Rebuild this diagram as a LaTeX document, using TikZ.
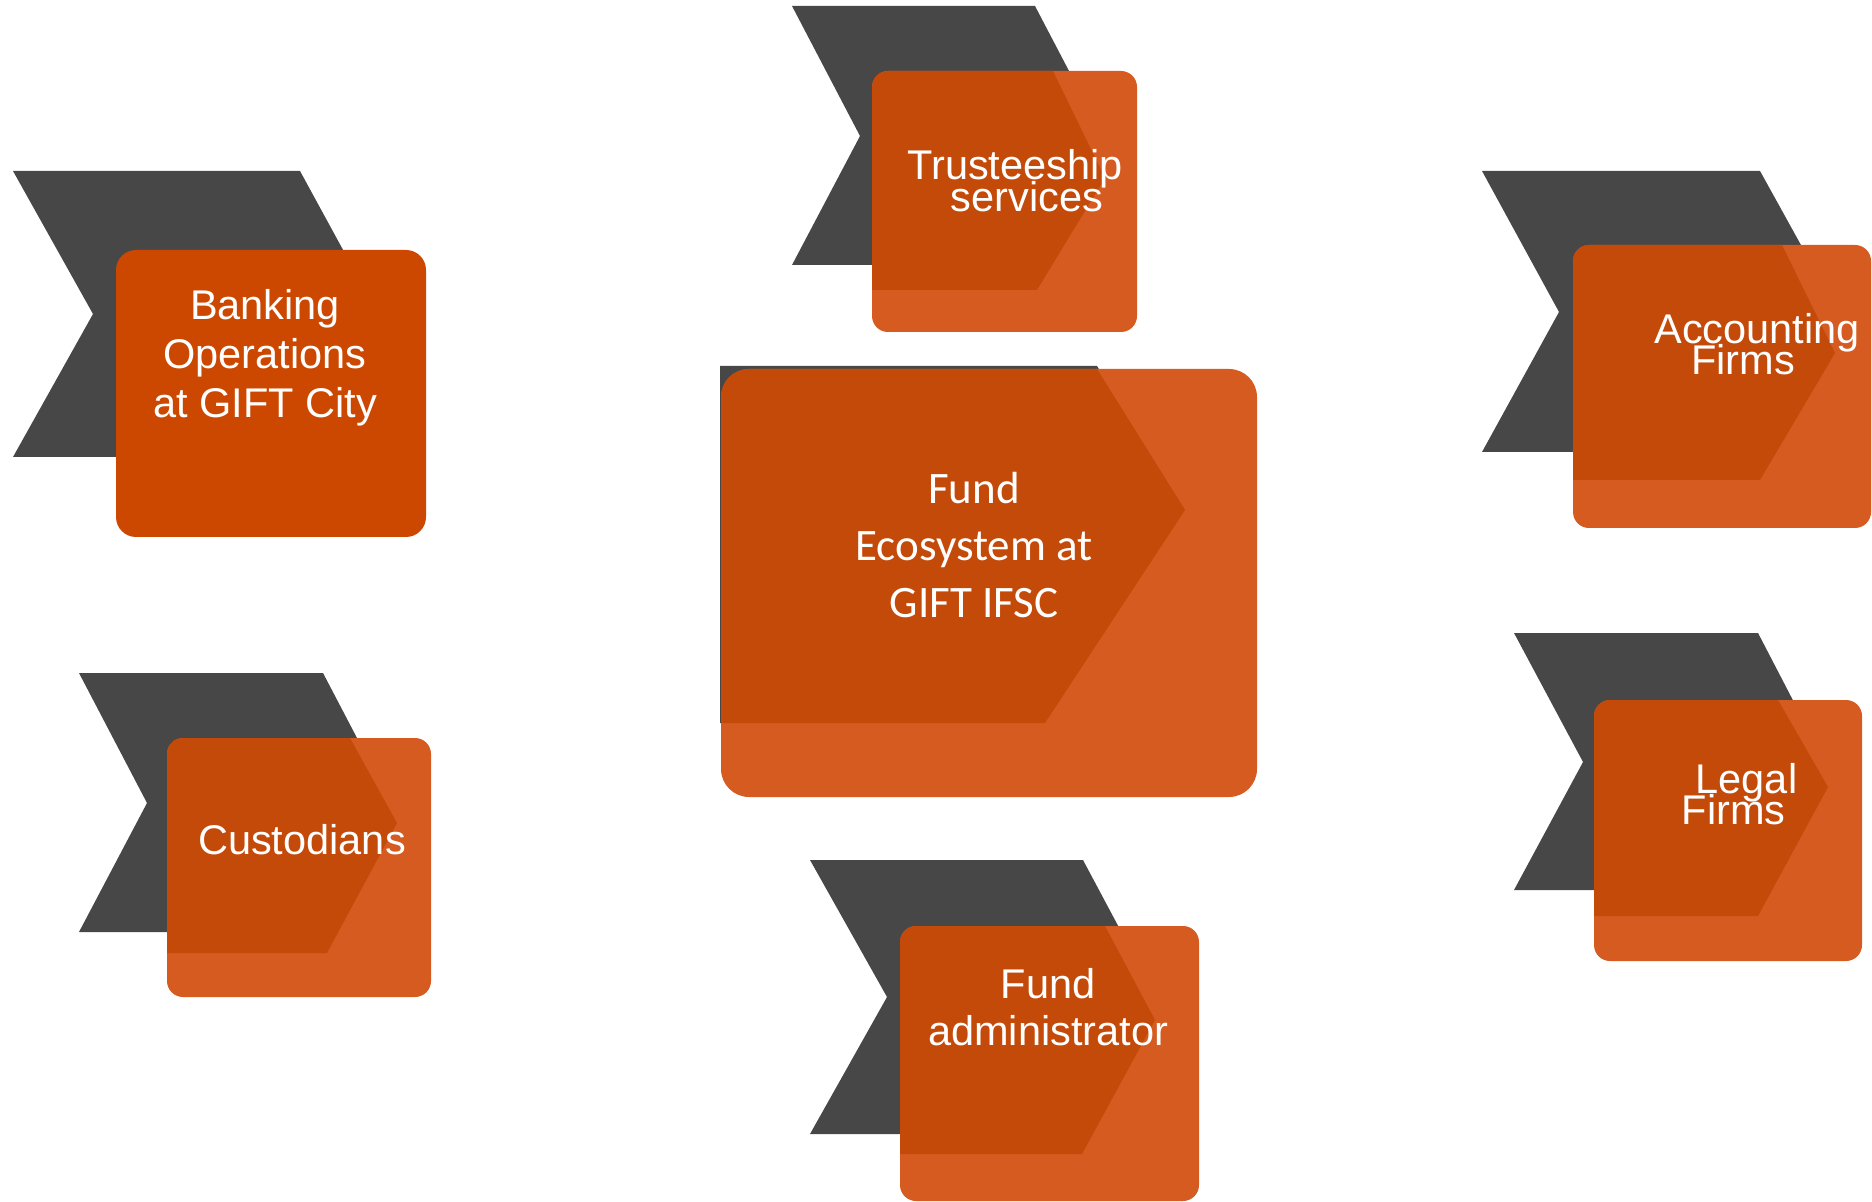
\documentclass[tikz,border=0pt]{standalone}
\usepackage{fontspec}
\newfontfamily\arialfont{Liberation Sans}
\newfontfamily\calfont{Carlito}
\usepackage{tikz}
\definecolor{chevgrey}{HTML}{474747}
\definecolor{tileorange}{HTML}{D55B20}
\definecolor{inlayorange}{HTML}{C44A0A}
\definecolor{bankorange}{HTML}{CC4800}
\lineskiplimit=-100pt
\tikzset{
  backchev/.style={fill=chevgrey},
  tile/.style={fill=tileorange,rounded corners=8pt},
  inlay/.style={fill=inlayorange,sharp corners},
  tiletext/.style={text=white,align=center,inner sep=0pt,
    font=\arialfont\fontsize{20.75}{#1}\selectfont},
  tiletext/.default=16
}

\begin{document}
\begin{tikzpicture}[x=0.5pt,y=0.5pt]
  \useasboundingbox (0,0) rectangle (1872,-1202);

  % banking
  \fill [backchev] (13,-171) -- (300,-171) -- (378,-314) -- (300,-457)
    -- (13,-457) -- (93,-314) -- cycle;
  \fill [fill=bankorange,rounded corners=10pt] (116,-250) rectangle (426,-537);
  \node [tiletext=24.5] (bank) at (265,-358)
    {Banking\\Operations\\at GIFT City};

  % trusteeship
  \fill [backchev] (792,-6) -- (1035,-6) -- (1103,-136) -- (1035,-265)
    -- (792,-265) -- (860,-136) -- cycle;
  \path [tile,path picture={\fill [inlay] (872,-71) -- (1053,-71) -- (1105,-178)
    -- (1037,-290) -- (872,-290) -- cycle;}] (872,-71) rectangle (1137,-332);
  \node [tiletext] (trust) at (1021,-181)
    {Trusteeship\hspace*{6pt}\\\hspace*{6pt}services};

  % accounting
  \fill [backchev] (1482,-171) -- (1760,-171) -- (1838,-312) -- (1760,-452)
    -- (1482,-452) -- (1559,-312) -- cycle;
  \path [tile,path picture={\fill [inlay] (1573,-245) -- (1782,-245) -- (1835,-353)
    -- (1760,-480) -- (1573,-480) -- cycle;}] (1573,-245) rectangle (1871,-528);
  \node [tiletext=15.5] (acct) at (1750,-344)
    {\hspace*{7pt}Accounting\\Firms\hspace*{7pt}};

  % legal
  \fill [backchev] (1514,-633) -- (1758,-633) -- (1825,-762) -- (1758,-890)
    -- (1514,-890) -- (1583,-762) -- cycle;
  \path [tile,path picture={\fill [inlay] (1594,-700) -- (1778,-700) -- (1828,-787)
    -- (1758,-916) -- (1594,-916) -- cycle;}] (1594,-700) rectangle (1862,-961);
  \node [tiletext=15.5] (legal) at (1740,-794)
    {\hspace*{6.5pt}Legal\\Firms\hspace*{6.5pt}};

  % custodians
  \fill [backchev] (79,-673) -- (323,-673) -- (391,-803) -- (323,-932)
    -- (79,-932) -- (147,-803) -- cycle;
  \path [tile,path picture={\fill [inlay] (167,-738) -- (350,-738) -- (397,-823)
    -- (327,-953) -- (167,-953) -- cycle;}] (167,-738) rectangle (431,-997);
  \node [tiletext] (cust) at (302,-840) {Custodians};

  % fund administrator
  \fill [backchev] (810,-860) -- (1083,-860) -- (1156,-997) -- (1083,-1134)
    -- (810,-1134) -- (887,-997) -- cycle;
  \path [tile,path picture={\fill [inlay] (900,-926) -- (1105,-926) -- (1155,-1020)
    -- (1082,-1154) -- (900,-1154) -- cycle;}] (900,-926) rectangle (1199,-1201);
  \node [tiletext=23.5] (admin) at (1048,-1007) {Fund\\administrator};

  % centre
  \fill [backchev] (720,-366) -- (1097,-366) -- (1185,-510) -- (1045,-723)
    -- (720,-723) -- cycle;
  \path [tile,rounded corners=14pt,path picture={\fill [inlay] (721,-369) -- (1097,-369)
    -- (1185,-510) -- (1045,-723) -- (721,-723) -- cycle;}] (721,-369) rectangle (1257,-797);
  \node [text=white,align=center,inner sep=0pt,
    font=\calfont\fontsize{22.5}{28.5}\selectfont] (eco) at (974,-545)
    {Fund\\Ecosystem at\\GIFT IFSC};

\end{tikzpicture}
\end{document}
